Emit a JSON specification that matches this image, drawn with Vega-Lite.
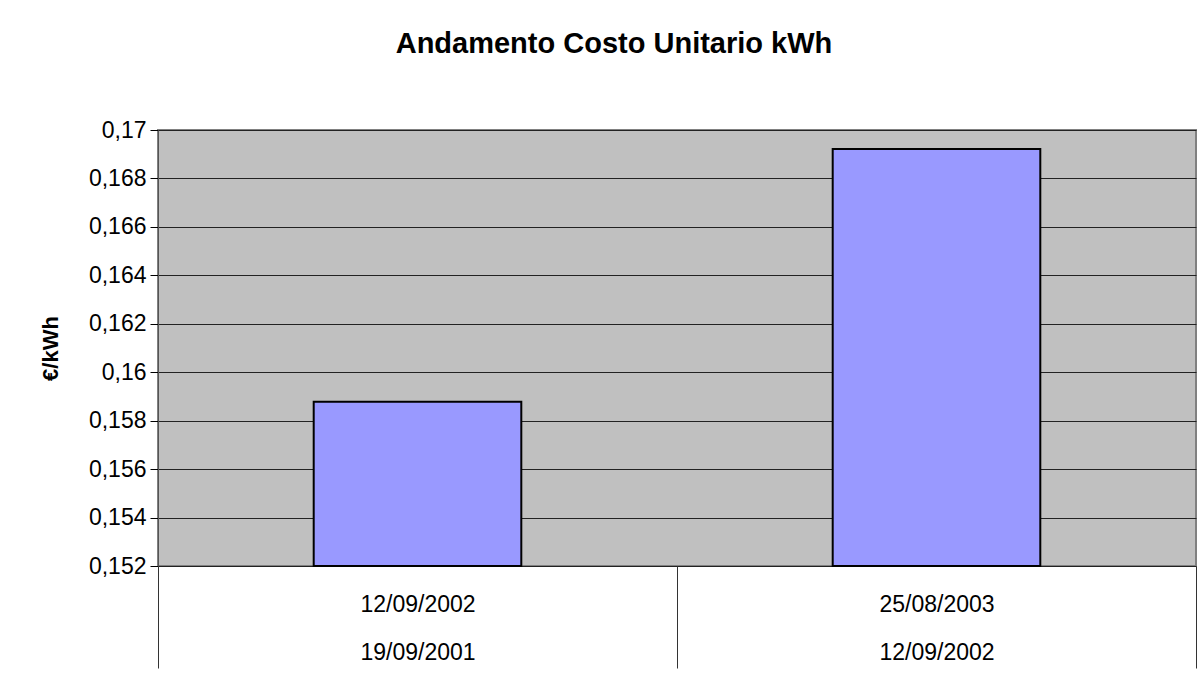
{
  "$schema": "https://vega.github.io/schema/vega-lite/v6.json",
  "width": 1038,
  "height": 436,
  "autosize": "none",
  "padding": {"left": 158, "top": 130, "right": 6, "bottom": 119},
  "background": "white",
  "title": {
    "text": "Andamento Costo Unitario kWh",
    "font": "Liberation Sans",
    "fontSize": 29,
    "fontWeight": "bold",
    "color": "black",
    "anchor": "middle",
    "frame": "group",
    "dx": -63,
    "offset": 60
  },
  "data": {
    "values": [
      {"period": "12/09/2002|19/09/2001", "value": 0.15878},
      {"period": "25/08/2003|12/09/2002", "value": 0.16922}
    ]
  },
  "mark": {"type": "bar", "fill": "#9999FF", "stroke": "black", "strokeWidth": 2, "width": {"band": 0.4}},
  "encoding": {
    "x": {
      "field": "period",
      "type": "nominal",
      "sort": null,
      "scale": {"paddingInner": 0, "paddingOuter": 0},
      "axis": {
        "title": null,
        "labelAngle": 0,
        "tickBand": "extent",
        "tickSize": 102,
        "tickColor": "#333333",
        "domain": false,
        "labelExpr": "isValid(datum.value) ? split(datum.value, '|') : ''",
        "labelFont": "Liberation Sans",
        "labelFontSize": 23,
        "labelColor": "black",
        "labelLineHeight": 48,
        "labelBaseline": "top",
        "labelPadding": -75
      }
    },
    "y": {
      "field": "value",
      "type": "quantitative",
      "scale": {"domain": [0.152, 0.17], "zero": false, "nice": false},
      "axis": {
        "title": "€/kWh",
        "titleFont": "Liberation Sans",
        "titleFontSize": 22,
        "titleFontWeight": "bold",
        "titleColor": "black",
        "titlePadding": 26,
        "values": [0.152, 0.154, 0.156, 0.158, 0.16, 0.162, 0.164, 0.166, 0.168, 0.17],
        "labelExpr": "replace(format(datum.value, '.3~g'), '.', ',')",
        "labelFont": "Liberation Sans",
        "labelFontSize": 23,
        "labelColor": "black",
        "labelPadding": 4,
        "tickSize": 8,
        "tickColor": "black",
        "domainColor": "#555555",
        "grid": true,
        "gridColor": "#222222",
        "gridWidth": 1
      }
    },
    "y2": {"datum": 0.152}
  },
  "config": {
    "view": {"fill": "#C0C0C0", "stroke": "#808080", "strokeWidth": 2}
  }
}
